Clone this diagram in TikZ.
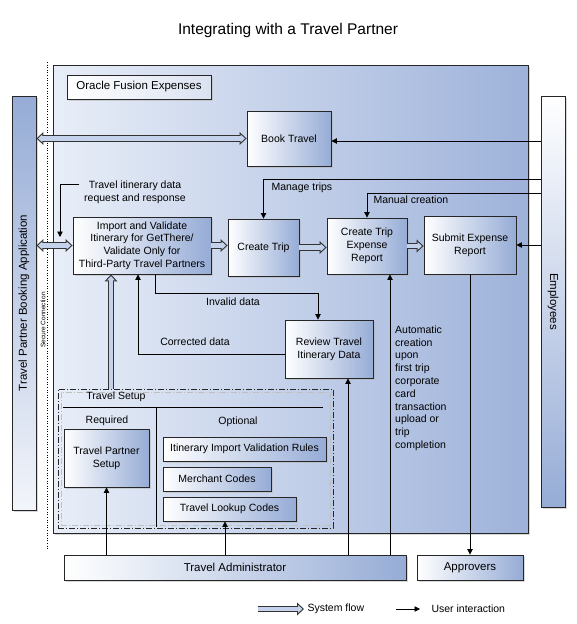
\documentclass[tikz,border=0pt]{standalone}
\usepackage{fontspec}
\setmainfont{Liberation Sans}
\usetikzlibrary{arrows.meta,shadows,calc}

\definecolor{boxblue}{RGB}{150,172,214}
\definecolor{panelleft}{RGB}{232,238,248}
\definecolor{panelright}{RGB}{158,178,218}
\definecolor{flowblue}{RGB}{196,210,236}

\tikzset{
    every node/.style={font=\fontsize{10.5}{12.8}\selectfont},
    bigtext/.style={font=\fontsize{11.5}{13.5}\selectfont},
    procbox/.style={draw=black!85, line width=0.9pt, left color=white, right color=boxblue,
        drop shadow={shadow xshift=2pt, shadow yshift=-2pt, fill=black!30}, align=center, inner sep=2pt},
    panel/.style={draw=black!85, line width=0.9pt, left color=panelleft, right color=panelright,
        drop shadow={shadow xshift=2pt, shadow yshift=-2pt, fill=black!30}, inner sep=0pt},
    sidebar/.style={draw=black!85, line width=0.9pt, bigtext, inner sep=0pt,
        drop shadow={shadow xshift=2pt, shadow yshift=-2pt, fill=black!30}},
    setupframe/.style={draw=black!85, line width=0.8pt, dash pattern=on 6pt off 2pt on 1pt off 2pt, inner sep=0pt},
    usrline/.style={draw=black, line width=0.8pt, -{Triangle[length=5.5pt,width=5.5pt]}},
    flowout/.style={draw=black!80, line width=6.5pt},
    flowin/.style={draw=flowblue, line width=4.3pt},
}

\newcommand{\sysflow}[2]{
    \draw[flowout, -{Triangle[length=7pt,width=13pt,line width=0pt]}] (#1) -- (#2);
    \draw[flowin, -{Triangle[length=4.3pt,width=8pt,line width=0pt]}, shorten >=1.6pt] (#1) -- (#2);
}
\newcommand{\sysflowboth}[2]{
    \draw[flowout, {Triangle[length=7pt,width=13pt,line width=0pt]}-{Triangle[length=7pt,width=13pt,line width=0pt]}] (#1) -- (#2);
    \draw[flowin, {Triangle[length=4.3pt,width=8pt,line width=0pt]}-{Triangle[length=4.3pt,width=8pt,line width=0pt]}, shorten >=1.6pt, shorten <=1.6pt] (#1) -- (#2);
}

\begin{document}
\begin{tikzpicture}[x=1pt, y=-1pt]
    \useasboundingbox (0,0) rectangle (576,624);
    \node[font=\fontsize{15.5}{18}\selectfont] (title) at (288,30) {Integrating with a Travel Partner};

    % secure connection
    \draw[dotted, line width=0.6pt] (47,62) -- (47,550);
    \node[font=\fontsize{6.5}{7}\selectfont, rotate=90] (secure) at (43,320) {Secure Connection};

    % containers and actors
    \node[panel, minimum width=475pt, minimum height=468pt] (fusion) at (290.5,299) {};
    \node[procbox, bigtext, right color=boxblue!35, minimum width=144pt, minimum height=24pt] (fusionlabel) at (139,87) {Oracle Fusion Expenses};
    \node[sidebar, top color=boxblue, bottom color=boxblue!12, minimum width=24pt, minimum height=414pt] (partner) at (24,303) {\rotatebox{90}{Travel Partner Booking Application}};
    \node[sidebar, top color=white, bottom color=boxblue, minimum width=24pt, minimum height=411pt] (employees) at (553,301.5) {\rotatebox{-90}{Employees}};

    % process boxes
    \node[procbox, minimum width=84pt, minimum height=55pt] (bookt) at (289,138.5) {Book Travel};
    \node[procbox, minimum width=138pt, minimum height=57pt] (import) at (142,245.5) {Import and Validate\\Itinerary for GetThere/\\Validate Only for\\Third-Party Travel Partners};
    \node[procbox, minimum width=71pt, minimum height=57pt] (ctrip) at (263.5,247.5) {Create Trip};
    \node[procbox, minimum width=80pt, minimum height=56pt] (cter) at (367,246) {Create Trip\\Expense\\Report};
    \node[procbox, minimum width=92pt, minimum height=58pt] (submit) at (470,245) {Submit Expense\\Report};
    \node[procbox, minimum width=88pt, minimum height=58pt] (review) at (329,349) {Review Travel\\Itinerary Data};

    % travel setup
    \node[draw=black!25, line width=0.5pt, dash pattern=on 6pt off 2pt on 1pt off 2pt, minimum width=269pt, minimum height=133pt] (setupinner) at (195.5,458.5) {};
    \node[setupframe, minimum width=275pt, minimum height=139pt] (setup) at (195.5,458.5) {};
    \node (setuplabel) at (116,397) {Travel Setup};
    \draw[line width=0.9pt] (63,407) -- (323,407);
    \draw[line width=0.9pt] (156,407) -- (156,527);
    \node (required) at (107,421) {Required};
    \node (optional) at (238,422) {Optional};
    \node[procbox, minimum width=85pt, minimum height=58pt] (tps) at (106.5,458) {Travel Partner\\Setup};
    \node[procbox, minimum width=163pt, minimum height=24pt] (iivr) at (244.5,449) {Itinerary Import Validation Rules};
    \node[procbox, minimum width=108pt, minimum height=24pt] (merchant) at (217,479) {Merchant Codes};
    \node[procbox, minimum width=133pt, minimum height=24pt] (tlc) at (229.5,509) {Travel Lookup Codes};

    % roles below
    \node[procbox, bigtext, minimum width=342pt, minimum height=25pt] (tadmin) at (235,567.5) {Travel Administrator};
    \node[procbox, bigtext, minimum width=106pt, minimum height=25pt] (appr) at (470,567.5) {Approvers};

    % booking
    \sysflowboth{bookt.west -| partner.east}{bookt.west}
    \coordinate (btin) at ($(bookt.east)+(0,2.5)$);
    \draw[usrline] (btin -| employees.west) -- (btin);

    % itinerary exchange
    \node[align=center] (itinlabel) at (135,192) {Travel itinerary data\\request and response};
    \coordinate (itinstart) at (79,184);
    \coordinate (itinend) at (60,237);
    \draw[usrline] (itinstart) -| (itinend);
    \sysflowboth{import.west -| partner.east}{import.west}

    % main flow
    \sysflow{import.east}{import.east -| ctrip.west}
    \sysflow{ctrip.east}{ctrip.east -| cter.west}
    \sysflow{cter.east}{cter.east -| submit.west}
    \draw[usrline] (submit.east -| employees.west) -- (submit.east);

    \coordinate (managey) at (0,179);
    \coordinate (manualy) at (0,193);
    \draw[usrline] (employees.west |- managey) -| (ctrip.north);
    \draw[usrline] (employees.west |- manualy) -| (cter.north);
    \node[anchor=west] (managelabel) at (268,188) {Manage trips};
    \node[anchor=west] (manuallabel) at (370,200) {Manual creation};

    % invalid and corrected data
    \draw[usrline] ([xshift=13pt]import.south) -- ++(0,19) -| ([xshift=-11pt]review.north);
    \draw[usrline] ([yshift=-5pt]review.west) -| ([xshift=-4pt]import.south);
    \node (invalidlabel) at (233,302) {Invalid data};
    \node (correctedlabel) at (195,342) {Corrected data};

    % setup feeds import
    \coordinate (setupout) at ([xshift=-31pt]import.south);
    \sysflow{setupout |- setup.north}{setupout}

    % administrator and approvers
    \coordinate (tlcin) at ([xshift=-4.5pt]tlc.south);
    \coordinate (reviewin) at ([xshift=19pt]review.south);
    \coordinate (cterin) at ([xshift=23pt]cter.south);
    \draw[usrline] (tadmin.north -| tps.south) -- (tps.south);
    \draw[usrline] (tadmin.north -| tlcin) -- (tlcin);
    \draw[usrline] (tadmin.north -| reviewin) -- (reviewin);
    \draw[usrline] (tadmin.north -| cterin) -- (cterin);
    \draw[usrline] (submit.south) -- (appr.north);
    \node[anchor=north west, align=left, inner sep=0pt] (autolabel) at (395,325.5) {Automatic\\creation\\upon\\first trip\\corporate\\card\\transaction\\upload or\\trip\\completion};

    % legend
    \coordinate (legflow) at (258,609);
    \node[anchor=west] (legsys) at (304,609) {System flow};
    \sysflow{legflow}{legsys.west}
    \coordinate (leguser) at (396,609);
    \coordinate (leguserend) at (420,609);
    \node[anchor=west] (legusr) at (428,609) {User interaction};
    \draw[usrline] (leguser) -- (leguserend);
\end{tikzpicture}
\end{document}
